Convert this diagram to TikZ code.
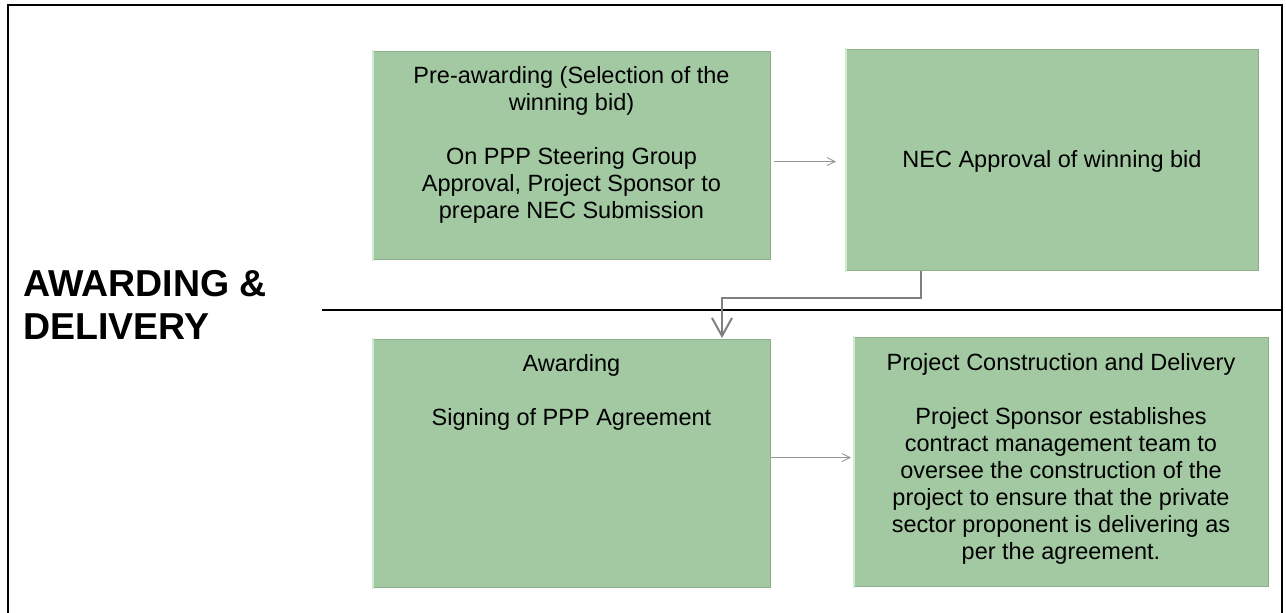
\documentclass[tikz,border=0pt]{standalone}
\usepackage{fontspec}
\setmainfont{Liberation Sans}
\usetikzlibrary{arrows.meta,calc}
\definecolor{boxgreen}{RGB}{162,201,162}
\definecolor{boxedge}{RGB}{140,176,140}
\definecolor{boxlight}{RGB}{205,238,205}
\definecolor{conngray}{RGB}{128,128,128}
\definecolor{thingray}{RGB}{150,150,150}
\tikzset{
  gbox/.style={fill=boxgreen, draw=boxedge, line width=1.2pt, inner sep=0pt, anchor=north west},
  lightedge/.style={draw=boxlight, line width=2pt},
  btext/.style={font=\fontsize{23.5}{27}\selectfont, align=center, inner sep=0pt, anchor=north, execute at begin node=\strut},
  thinarrow/.style={draw=thingray, line width=0.9pt, -{Straight Barb[length=8pt,width=8pt]}},
  bigarrow/.style={draw=conngray, line width=2pt, -{Straight Barb[length=18pt,width=20pt]}},
  frame/.style={draw=black, line width=2pt}
}
\begin{document}
\begin{tikzpicture}[x=1pt,y=-1pt]
\useasboundingbox (0,0) rectangle (1286,613);
% outer frame
\draw[frame] (8,614) -- (8,5) -- (1282,5) -- (1282,614);
% separator
\draw[frame] (322,310) -- (1282,310);
% title
\node[font=\fontsize{37.5}{43}\selectfont\bfseries, align=left, anchor=north west, inner sep=0pt, execute at begin node=\strut] (title) at (23,269.9) {AWARDING \&\\DELIVERY};
% boxes
\node[gbox, minimum width=397pt, minimum height=208pt] (b1) at (373,51) {};
\node[gbox, minimum width=412pt, minimum height=221pt] (b2) at (846,49) {};
\node[gbox, minimum width=397pt, minimum height=248pt] (b3) at (373,339) {};
\node[gbox, minimum width=414pt, minimum height=249pt] (b4) at (854,337) {};
\foreach \b in {b1,b2,b3,b4}{
  \draw[lightedge] ([yshift=-0.6pt]\b.south west) -- ([yshift=0.6pt]\b.north west);
}
% texts
\node[btext] (t1) at (571.5,66.1) {Pre-awarding (Selection of the\\winning bid)\\[27pt]On PPP Steering Group\\Approval, Project Sponsor to\\prepare NEC Submission};
\node[btext] (t2) at (1052,148.1) {NEC Approval of winning bid};
\node[btext] (t3) at (571.5,354.1) {Awarding\\[27pt]Signing of PPP Agreement};
\node[btext] (t4) at (1061,353.1) {Project Construction and Delivery\\[27pt]Project Sponsor establishes\\contract management team to\\oversee the construction of the\\project to ensure that the private\\sector proponent is delivering as\\per the agreement.};
% connectors
\draw[thinarrow] ([xshift=3pt,yshift=-6pt]b1.east) -- ([xshift=-10pt,yshift=-1.5pt]b2.west);
\draw[thinarrow] ([yshift=6pt]b3.east) -- ([xshift=-3pt,yshift=4.5pt]b4.west);
\draw[bigarrow] ([xshift=75pt]b2.south west) |- ($(b3.north west)+(349,-41)$) -- ([xshift=349pt,yshift=1pt]b3.north west);
\end{tikzpicture}
\end{document}
